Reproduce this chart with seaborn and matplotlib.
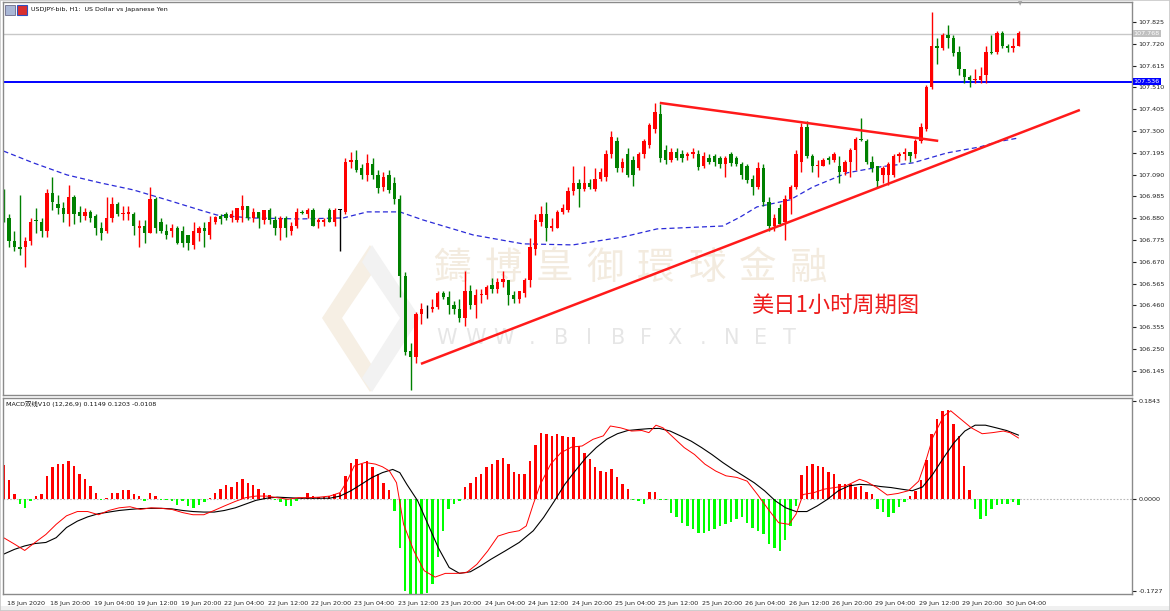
import numpy as np
import matplotlib
matplotlib.use("Agg")
import matplotlib.pyplot as plt
from matplotlib import font_manager, transforms
from matplotlib.patches import Polygon, Rectangle
import seaborn as sns

# ---------------- data ----------------
opens = [106.99, 106.88, 106.77, 106.74, 106.74, 106.77, 106.87, 106.86, 106.82, 107.00,
         106.95, 106.93, 106.90, 106.98, 106.91, 106.89, 106.91, 106.89, 106.83, 106.82,
         106.88, 106.95, 106.90, 106.90, 106.90, 106.83, 106.84, 106.81, 106.97, 106.86,
         106.82, 106.82, 106.83, 106.82, 106.80, 106.75, 106.81, 106.83, 106.80, 106.86,
         106.89, 106.90, 106.88, 106.87, 106.92, 106.94, 106.88, 106.91, 106.87, 106.92,
         106.87, 106.83, 106.88, 106.82, 106.84, 106.91, 106.90, 106.92, 106.86, 106.86,
         106.92, 106.86, 106.92, 106.91, 107.15, 107.16, 107.12, 107.09, 107.14, 107.09,
         107.03, 107.09, 107.05, 106.97, 106.60, 106.24, 106.21, 106.42, 106.44, 106.44,
         106.45, 106.52, 106.50, 106.46, 106.44, 106.40, 106.53, 106.46, 106.51, 106.51,
         106.56, 106.54, 106.57, 106.58, 106.51, 106.49, 106.52, 106.58, 106.73, 106.86,
         106.90, 106.83, 106.83, 106.91, 106.92, 107.01, 107.05, 107.02, 107.05, 107.02,
         107.07, 107.08, 107.19, 107.25, 107.12, 107.19, 107.16, 107.12, 107.19, 107.23,
         107.31, 107.38, 107.21, 107.16, 107.20, 107.19, 107.18, 107.19, 107.19, 107.13,
         107.17, 107.18, 107.17, 107.14, 107.19, 107.17, 107.14, 107.13, 107.07, 107.03,
         107.12, 106.96, 106.84, 106.93, 106.86, 106.97, 107.03, 107.15, 107.32, 107.18,
         107.13, 107.13, 107.17, 107.16, 107.13, 107.10, 107.15, 107.21, 107.26, 107.25,
         107.15, 107.13, 107.09, 107.09, 107.09, 107.18, 107.19, 107.20, 107.19, 107.25,
         107.31, 107.51, 107.71, 107.70, 107.76, 107.75, 107.68, 107.60, 107.56, 107.545,
         107.545, 107.57, 107.68, 107.68, 107.77, 107.71, 107.70, 107.71]
highs = [107.02, 106.90, 106.82, 106.99, 106.79, 106.88, 106.93, 106.88, 107.02, 107.08,
         106.99, 106.96, 107.04, 106.99, 106.94, 106.93, 106.92, 106.90, 106.86, 106.98,
         106.98, 106.96, 106.94, 106.94, 106.91, 106.87, 106.87, 107.03, 106.98, 106.88,
         106.85, 106.85, 106.84, 106.84, 106.80, 106.86, 106.84, 106.86, 106.89, 106.89,
         106.90, 106.91, 106.92, 106.93, 106.99, 106.94, 106.93, 106.91, 106.92, 106.93,
         106.89, 106.89, 106.89, 106.86, 106.93, 106.92, 106.93, 106.93, 106.88, 106.88,
         106.93, 106.93, 106.925, 107.17, 107.20, 107.21, 107.14, 107.19, 107.17, 107.11,
         107.10, 107.11, 107.08, 106.99, 106.62, 106.28, 106.43, 106.47, 106.46, 106.49,
         106.53, 106.53, 106.53, 106.48, 106.49, 106.625, 106.56, 106.54, 106.54, 106.56,
         106.59, 106.59, 106.625, 106.58, 106.53, 106.53, 106.59, 106.785, 106.90, 106.94,
         106.96, 106.88, 106.92, 106.95, 107.03, 107.13, 107.07, 107.13, 107.07, 107.12,
         107.12, 107.21, 107.30, 107.27, 107.17, 107.22, 107.18, 107.20, 107.26, 107.34,
         107.435, 107.43, 107.23, 107.22, 107.22, 107.21, 107.20, 107.22, 107.21, 107.20,
         107.19, 107.19, 107.18, 107.18, 107.20, 107.18, 107.15, 107.14, 107.09, 107.15,
         107.14, 106.98, 106.90, 106.95, 106.99, 107.04, 107.21, 107.34, 107.35, 107.19,
         107.16, 107.17, 107.18, 107.20, 107.18, 107.16, 107.22, 107.27, 107.36, 107.26,
         107.18, 107.13, 107.13, 107.15, 107.19, 107.20, 107.22, 107.20, 107.26, 107.34,
         107.52, 107.875, 107.75, 107.77, 107.81, 107.76, 107.71, 107.60, 107.57, 107.60,
         107.61, 107.71, 107.76, 107.78, 107.78, 107.72, 107.75, 107.78]
lows = [106.86, 106.74, 106.72, 106.70, 106.645, 106.75, 106.81, 106.79, 106.79, 106.92,
        106.90, 106.86, 106.84, 106.85, 106.86, 106.87, 106.86, 106.80, 106.775, 106.81,
        106.86, 106.89, 106.87, 106.87, 106.80, 106.74, 106.76, 106.81, 106.81, 106.81,
        106.78, 106.79, 106.755, 106.74, 106.725, 106.73, 106.77, 106.74, 106.78, 106.85,
        106.85, 106.87, 106.86, 106.86, 106.86, 106.87, 106.86, 106.83, 106.85, 106.85,
        106.80, 106.775, 106.79, 106.80, 106.83, 106.90, 106.88, 106.84, 106.83, 106.84,
        106.86, 106.84, 106.72, 106.90, 107.12, 107.10, 107.07, 107.06, 107.07, 107.00,
        107.01, 107.00, 106.95, 106.50, 106.22, 106.05, 106.18, 106.37, 106.40, 106.43,
        106.44, 106.49, 106.42, 106.42, 106.38, 106.36, 106.44, 106.40, 106.47, 106.49,
        106.52, 106.52, 106.55, 106.46, 106.47, 106.47, 106.50, 106.55, 106.70, 106.84,
        106.77, 106.82, 106.83, 106.90, 106.91, 106.99, 106.935, 107.01, 107.02, 107.01,
        107.06, 107.06, 107.17, 107.10, 107.10, 107.08, 107.035, 107.11, 107.17, 107.22,
        107.29, 107.15, 107.14, 107.15, 107.16, 107.15, 107.16, 107.17, 107.11, 107.12,
        107.14, 107.13, 107.12, 107.08, 107.13, 107.13, 107.07, 107.05, 106.99, 107.02,
        106.94, 106.82, 106.82, 106.84, 106.775, 106.90, 107.02, 107.10, 107.17, 107.10,
        107.08, 107.13, 107.14, 107.15, 107.05, 107.09, 107.08, 107.11, 107.25, 107.14,
        107.10, 107.025, 107.05, 107.04, 107.08, 107.15, 107.16, 107.15, 107.17, 107.24,
        107.30, 107.50, 107.62, 107.69, 107.70, 107.66, 107.57, 107.53, 107.51, 107.53,
        107.53, 107.53, 107.67, 107.67, 107.70, 107.68, 107.68, 107.71]
closes = [106.88, 106.77, 106.74, 106.73, 106.77, 106.86, 106.868, 106.82, 107.00, 106.96,
          106.93, 106.90, 106.98, 106.90, 106.89, 106.91, 106.88, 106.83, 106.81, 106.88,
          106.95, 106.90, 106.905, 106.91, 106.84, 106.84, 106.81, 106.97, 106.83, 106.82,
          106.80, 106.83, 106.76, 106.76, 106.76, 106.82, 106.83, 106.82, 106.86, 106.885,
          106.875, 106.88, 106.90, 106.93, 106.94, 106.88, 106.91, 106.88, 106.92, 106.87,
          106.83, 106.88, 106.83, 106.84, 106.91, 106.905, 106.92, 106.84, 106.87, 106.87,
          106.86, 106.92, 106.92, 107.15, 107.16, 107.11, 107.09, 107.145, 107.09, 107.025,
          107.08, 107.015, 106.97, 106.60, 106.235, 106.21, 106.42, 106.44, 106.44, 106.45,
          106.52, 106.50, 106.46, 106.44, 106.40, 106.53, 106.46, 106.51, 106.515, 106.55,
          106.54, 106.57, 106.585, 106.51, 106.49, 106.53, 106.58, 106.74, 106.87, 106.90,
          106.83, 106.84, 106.91, 106.93, 107.01, 107.05, 107.02, 107.05, 107.03, 107.07,
          107.10, 107.19, 107.27, 107.12, 107.15, 107.09, 107.09, 107.19, 107.25, 107.33,
          107.39, 107.17, 107.16, 107.20, 107.17, 107.17, 107.19, 107.20, 107.125, 107.18,
          107.15, 107.15, 107.14, 107.17, 107.145, 107.14, 107.09, 107.065, 107.03, 107.12,
          106.96, 106.84, 106.88, 106.85, 106.97, 107.03, 107.19, 107.32, 107.18, 107.13,
          107.135, 107.16, 107.16, 107.19, 107.10, 107.15, 107.21, 107.26, 107.255, 107.15,
          107.12, 107.06, 107.12, 107.14, 107.18, 107.19, 107.20, 107.18, 107.25, 107.32,
          107.51, 107.71, 107.70, 107.76, 107.75, 107.675, 107.60, 107.56, 107.545, 107.55,
          107.565, 107.68, 107.675, 107.77, 107.71, 107.70, 107.71, 107.77]

# moving average (blue dashed), read at selected bars
ma_bars = [0, 5.5, 11.7, 17.8, 23.9, 30.1, 36.2, 39.3, 45.4, 54.6, 62.6, 67, 73, 77.3, 86.5,
           95.7, 104.9, 114.1, 120.4, 132.5, 135.7, 138.8, 144.9, 149.1, 155.4, 161.5, 167.5,
           173.8, 179.9, 183, 187]
ma_vals = [107.203, 107.146, 107.088, 107.050, 107.016, 106.968, 106.919, 106.895, 106.881,
           106.876, 106.881, 106.910, 106.910, 106.871, 106.799, 106.756, 106.751, 106.789,
           106.828, 106.842, 106.885, 106.934, 106.968, 107.030, 107.098, 107.127, 107.146,
           107.194, 107.223, 107.247, 107.266]

# MACD histogram
macd_hist = [0.064, 0.036, 0.009, -0.009, -0.016, -0.004, 0.006, 0.009, 0.044, 0.061,
             0.066, 0.066, 0.071, 0.0625, 0.047, 0.0375, 0.025, 0.011, -0.001, 0.003,
             0.011, 0.0125, 0.017, 0.017, 0.009, 0.006, -0.004, 0.011, 0.006, -0.002,
             -0.002, -0.004, -0.011, -0.003, -0.0125, -0.016, -0.011, -0.006, 0.003, 0.0125,
             0.019, 0.027, 0.023, 0.033, 0.0375, 0.031, 0.027, 0.019, 0.011, 0.0075,
             -0.002, -0.006, -0.0125, -0.0125, -0.003, 0.003, 0.012, 0.006, 0.004, 0.004,
             0.006, 0.009, 0.0125, 0.044, 0.0675, 0.075, 0.066, 0.072, 0.061, 0.047,
             0.031, 0.017, -0.022, -0.091, -0.172, -0.19, -0.19, -0.19, -0.175, -0.159,
             -0.109, -0.059, -0.019, -0.009, -0.004, 0.023, 0.031, 0.041, 0.047, 0.061,
             0.066, 0.073, 0.078, 0.066, 0.052, 0.047, 0.047, 0.072, 0.102, 0.125,
             0.123, 0.119, 0.122, 0.119, 0.117, 0.116, 0.100, 0.0875, 0.075, 0.061,
             0.053, 0.052, 0.056, 0.042, 0.029, 0.019, -0.002, -0.003, -0.009, 0.014,
             0.014, -0.002, -0.002, -0.025, -0.034, -0.044, -0.05, -0.056, -0.064, -0.0625,
             -0.059, -0.056, -0.05, -0.047, -0.042, -0.0375, -0.034, -0.044, -0.054, -0.059,
             -0.066, -0.084, -0.092, -0.097, -0.077, -0.05, -0.0125, 0.045, 0.0625, 0.066,
             0.0625, 0.061, 0.052, 0.048, 0.028, 0.029, 0.029, 0.023, 0.025, 0.014,
             0.009, -0.019, -0.023, -0.033, -0.025, -0.014, -0.006, 0.006, 0.016, 0.036,
             0.073, 0.123, 0.150, 0.166, 0.167, 0.142, 0.119, 0.0625, 0.017, -0.019,
             -0.0375, -0.031, -0.019, -0.011, -0.008, -0.008, -0.006, -0.0108]

dif_bars = [0, 2, 3.9, 5.8, 7.8, 9.7, 11.6, 13.6, 15.5, 17.5, 19.4, 21.3, 23.3, 25.2, 27.2, 29.1,
            31, 33, 34.9, 36.9, 38.8, 40.7, 42.7, 44.6, 46.5, 48.5, 50.4, 52.4, 54.3, 56.2, 58.2,
            60.1, 62, 63.3, 64.6, 66.6, 68.5, 69.8, 71.1, 72.4, 73.7, 75.6, 77.5, 79.5, 81.4,
            83.4, 85.3, 87.2, 89.2, 91.1, 93.1, 95, 96.3, 97.6, 98.9, 100.8, 102.7, 104.7,
            106.6, 108.6, 110.5, 111.8, 113.7, 115.7, 117.6, 118.9, 120.2, 121.5, 123.4, 125.4,
            127.3, 129.2, 131.2, 133.1, 135.1, 137, 138.9, 140.9, 142.8, 144.7, 146, 147.3,
            149.3, 151.2, 153.1, 155.1, 156.4, 157.7, 159, 160.9, 162.8, 164.8, 166.7, 168.6,
            170, 171.2, 173.2, 174.5, 176.4, 178.3, 180.3, 182.2, 184.2, 185.4, 187]
dif_vals = [-0.072, -0.084, -0.096, -0.081, -0.066, -0.047, -0.031, -0.023, -0.023, -0.029,
            -0.021, -0.016, -0.014, -0.019, -0.016, -0.017, -0.019, -0.025, -0.029, -0.029,
            -0.021, -0.0125, -0.004, 0.003, 0.006, 0.006, 0.003, 0.0, 0.003, 0.003, 0.004,
            0.006, 0.0125, 0.034, 0.0625, 0.069, 0.066, 0.061, 0.053, 0.031, -0.047, -0.097,
            -0.134, -0.146, -0.139, -0.139, -0.1375, -0.122, -0.097, -0.069, -0.0625, -0.059,
            -0.05, -0.009, 0.028, 0.066, 0.0875, 0.098, 0.100, 0.1125, 0.119, 0.1375, 0.134,
            0.128, 0.129, 0.125, 0.139, 0.134, 0.116, 0.097, 0.084, 0.066, 0.053, 0.044, 0.041,
            0.034, 0.009, -0.019, -0.044, -0.047, -0.028, 0.009, 0.0125, 0.019, 0.022, 0.025,
            0.031, 0.0375, 0.033, 0.022, 0.008, 0.011, 0.016, 0.034, 0.075, 0.116, 0.156,
            0.166, 0.150, 0.134, 0.123, 0.125, 0.128, 0.125, 0.1149]

dea_bars = [0, 2, 3.9, 5.8, 7.8, 9.7, 11.6, 13.6, 15.5, 17.5, 19.4, 21.3, 23.3, 25.2, 27.2, 29.1,
            31, 33, 34.9, 36.9, 38.8, 40.7, 42.7, 44.6, 46.5, 48.5, 50.4, 52.4, 54.3, 56.2, 58.2,
            60.1, 62, 64, 65.9, 67.9, 69.8, 71.7, 73, 74.3, 76.3, 78.2, 80.1, 82.1, 84, 86, 87.9,
            89.8, 92.4, 95, 97.6, 99.5, 101.5, 103.4, 105.3, 107.3, 109.2, 111.1, 113.1, 115,
            117, 118.9, 120.8, 122.8, 124.7, 126.7, 128.6, 130.5, 132.5, 134.4, 136.3, 138.3,
            140.2, 142.2, 144.1, 146, 148, 149.9, 151.8, 153.8, 155.7, 157.7, 159.6, 161.5,
            163.5, 165.4, 167.4, 169.3, 171.2, 173.2, 175.1, 177.1, 179, 180.9, 182.9, 184.8, 187]
dea_vals = [-0.103, -0.094, -0.0875, -0.083, -0.081, -0.072, -0.053, -0.041, -0.033, -0.027,
            -0.024, -0.021, -0.019, -0.0175, -0.017, -0.017, -0.018, -0.021, -0.023, -0.024,
            -0.024, -0.021, -0.016, -0.009, -0.002, 0.002, 0.004, 0.003, 0.002, 0.002, 0.002,
            0.002, 0.006, 0.016, 0.028, 0.041, 0.050, 0.056, 0.050, 0.028, -0.003, -0.047,
            -0.091, -0.128, -0.139, -0.136, -0.125, -0.1125, -0.097, -0.081, -0.059, -0.034,
            -0.003, 0.028, 0.053, 0.078, 0.097, 0.1125, 0.123, 0.129, 0.131, 0.1325, 0.133,
            0.128, 0.119, 0.109, 0.097, 0.084, 0.069, 0.056, 0.044, 0.031, 0.016, -0.003,
            -0.016, -0.023, -0.023, -0.0125, 0.0, 0.016, 0.025, 0.028, 0.027, 0.024, 0.022,
            0.019, 0.016, 0.023, 0.047, 0.078, 0.106, 0.128, 0.139, 0.139, 0.134, 0.129, 0.1203]

price_ticks = [107.825, 107.720, 107.615, 107.510, 107.405, 107.300, 107.195, 107.090, 106.985,
               106.880, 106.775, 106.670, 106.565, 106.460, 106.355, 106.250, 106.145]
macd_ticks = [0.1843, 0.0, -0.1727]
macd_tick_labels = ["0.1843", "0.0000", "-0.1727"]
time_tick_bars = list(range(0, 185, 8))
time_labels = ["18 Jun 2020", "18 Jun 20:00", "19 Jun 04:00", "19 Jun 12:00", "19 Jun 20:00",
               "22 Jun 04:00", "22 Jun 12:00", "22 Jun 20:00", "23 Jun 04:00", "23 Jun 12:00",
               "23 Jun 20:00", "24 Jun 04:00", "24 Jun 12:00", "24 Jun 20:00", "25 Jun 04:00",
               "25 Jun 12:00", "25 Jun 20:00", "26 Jun 04:00", "26 Jun 12:00", "26 Jun 20:00",
               "29 Jun 04:00", "29 Jun 12:00", "29 Jun 20:00", "30 Jun 04:00"]
support_line = ([76.9, 198.3], [106.178, 107.401])
resist_line = ([120.9, 172.2], [107.435, 107.252])
blue_level = 107.536
ask_level = 107.768
macd_label = "MACD双线V10 (12,26,9) 0.1149 0.1203 -0.0108"
title = "USDJPY-bib, H1:  US Dollar vs Japanese Yen"
note = "美日1小时周期图"
watermark_cn = "鑄博皇御環球金融"
watermark_en = "WWW.BIBFX.NET"

# ---------------- style ----------------
sns.set_style("white")
names = {f.name for f in font_manager.fontManager.ttflist}
if "Liberation Sans Narrow" in names:
    SMALL = "Liberation Sans Narrow"; FS = 5.6
else:
    SMALL = "DejaVu Sans"; FS = 4.6
plt.rcParams["font.family"] = [SMALL, "Noto Sans CJK SC", "DejaVu Sans"]

W, H = 1170, 611
fig = plt.figure(figsize=(W / 100, H / 100), dpi=100)
fig.patch.set_facecolor("white")


def rect(l, t, r, b):
    return [l / W, 1 - b / H, (r - l) / W, (b - t) / H]


def fx(x):
    return x / W


def fy(y):
    return 1 - y / H


ax = fig.add_axes(rect(3, 2, 1132, 395))
axm = fig.add_axes(rect(3, 398, 1132, 594), sharex=ax)

RED = "#ff0000"
GREEN = "#008000"

o = np.array(opens); h = np.array(highs); l = np.array(lows); c = np.array(closes)
idx = np.arange(len(o))
cols = np.where(c > o, RED, np.where(c < o, GREEN, "#000000"))

# watermark (behind the candles)
for k, ch in enumerate(watermark_cn):
    ax.text(fx(452 + 51 * k), fy(268), ch, transform=fig.transFigure, ha="center", va="center",
            fontsize=27, color="#f3ebdf", family=["Noto Sans CJK TC", "Noto Sans CJK SC"],
            zorder=0.2)
for k, ch in enumerate(watermark_en):
    ax.text(fx(447 + 28.5 * k), fy(338), ch, transform=fig.transFigure, ha="center",
            va="center", fontsize=15, color="#e6e6e6", family="DejaVu Sans", zorder=0.2)
# diamond logo
ax.add_patch(Polygon([(fx(370), fy(245)), (fx(322), fy(318)), (fx(370), fy(392)),
                      (fx(380), fy(378)), (fx(342), fy(318)), (fx(380), fy(262))],
                     closed=True, transform=fig.transFigure, fc="#f6efe4", ec="none", zorder=0.2))
ax.add_patch(Polygon([(fx(372), fy(245)), (fx(420), fy(318)), (fx(372), fy(392)),
                      (fx(362), fy(378)), (fx(400), fy(318)), (fx(362), fy(262))],
                     closed=True, transform=fig.transFigure, fc="#f2f2f2", ec="none", zorder=0.2))

# levels
ax.axhline(ask_level, color="#c8c8c8", lw=1.0, zorder=1)
ax.axhline(blue_level, color="#0000ff", lw=1.4, zorder=1)

# moving average
sns.lineplot(x=ma_bars, y=ma_vals, ax=ax, color="#2a2ad8", lw=0.9,
             linestyle=(0, (4, 2.5)), zorder=1.5)

# candles
ax.vlines(idx, l, h, colors=cols, lw=1.0, zorder=2)
ax.bar(idx, np.maximum(np.abs(c - o), 0.003), bottom=np.minimum(o, c), width=0.62,
       color=cols, linewidth=0, zorder=2.1)

# trend lines
ax.plot(*support_line, color="#ff1a1a", lw=1.8, zorder=3, solid_capstyle="butt")
ax.plot(*resist_line, color="#ff1a1a", lw=1.8, zorder=3, solid_capstyle="butt")

ax.set_xlim(-0.1, 207.9)
ax.set_ylim(106.028, 107.921)
ax.set_yticks(price_ticks)
ax.set_yticklabels([f"{v:.3f}" for v in price_ticks])
ax.yaxis.tick_right()
ax.tick_params(axis="y", direction="out", length=3, width=0.8, pad=1.5, labelsize=FS,
               colors="#222222")
ax.tick_params(axis="x", bottom=False, labelbottom=False)
ax.set_xlabel(""); ax.set_ylabel("")

# level label boxes
bt = transforms.blended_transform_factory(ax.transAxes, ax.transData)
ax.text(1.0015, ask_level, f"{ask_level:.3f}", transform=bt, ha="left", va="center",
        fontsize=FS, color="white", zorder=5, clip_on=False,
        bbox=dict(boxstyle="square,pad=0.15", fc="#c0c0c0", ec="none"))
ax.text(1.0015, blue_level, f"{blue_level:.3f}", transform=bt, ha="left", va="center",
        fontsize=FS, color="white", zorder=5, clip_on=False,
        bbox=dict(boxstyle="square,pad=0.15", fc="#0000ff", ec="none"))

# note text
ax.text(fx(835), fy(305), note, transform=fig.transFigure, ha="center", va="center",
        fontsize=16, color="#ee1c1c", family=["Noto Sans CJK SC"], zorder=6)

# ---------------- MACD ----------------
hist = np.array(macd_hist)
axm.axhline(0, color="#b8b8b8", lw=0.8, ls=(0, (1.5, 1.5)), zorder=0.5)
axm.bar(idx, hist, width=0.45, color=np.where(hist >= 0, "#ff0000", "#00ff00"),
        linewidth=0, zorder=1)
sns.lineplot(x=dea_bars, y=dea_vals, ax=axm, color="#000000", lw=0.8, zorder=2)
sns.lineplot(x=dif_bars, y=dif_vals, ax=axm, color="#ff0000", lw=0.7, zorder=2.1)
axm.set_ylim(-0.1777, 0.190)
axm.set_yticks(macd_ticks)
axm.set_yticklabels(macd_tick_labels)
axm.yaxis.tick_right()
axm.tick_params(axis="y", direction="out", length=3, width=0.8, pad=1.5, labelsize=FS,
                colors="#222222")
axm.set_xticks(time_tick_bars)
axm.set_xticklabels(time_labels)
axm.tick_params(axis="x", direction="out", length=4, width=0.8, pad=1, labelsize=FS,
                colors="#222222")
off = transforms.ScaledTranslation(2.5 / 72, 0, fig.dpi_scale_trans)
for lab in axm.get_xticklabels():
    lab.set_horizontalalignment("left")
    lab.set_transform(lab.get_transform() + off)
axm.set_xlabel(""); axm.set_ylabel("")
axm.text(0.003, 0.985, macd_label, transform=axm.transAxes, ha="left", va="top",
         fontsize=FS, color="#111111", family=[SMALL, "Noto Sans CJK SC"])

for a in (ax, axm):
    for s in a.spines.values():
        s.set_color("#8a8a8a"); s.set_linewidth(1.0)

# header
fig.text(fx(31), fy(10), title, ha="left", va="center", fontsize=FS, color="#111111")
fig.patches.append(Rectangle((fx(5), fy(15)), fx(10), 10 / H, transform=fig.transFigure,
                             fc="#a9b7d6", ec="#6a6a8a", lw=0.6))
fig.patches.append(Rectangle((fx(17), fy(15)), fx(10), 10 / H, transform=fig.transFigure,
                             fc="#d93030", ec="#3050c0", lw=0.8))
fig.text(fx(1020), fy(4), "▼", ha="center", va="center", fontsize=4, color="#a0a0a0",
         family="DejaVu Sans")
# outer frame / bottom band
fig.patches.append(Rectangle((0, 0), 1, 5 / H, transform=fig.transFigure, fc="#f0f0f0",
                             ec="none", zorder=-1))
fig.patches.append(Rectangle((0, 0), 1, 1, transform=fig.transFigure, fill=False,
                             ec="#c8c8c8", lw=1.2))

fig.savefig("out.png", dpi=100)
